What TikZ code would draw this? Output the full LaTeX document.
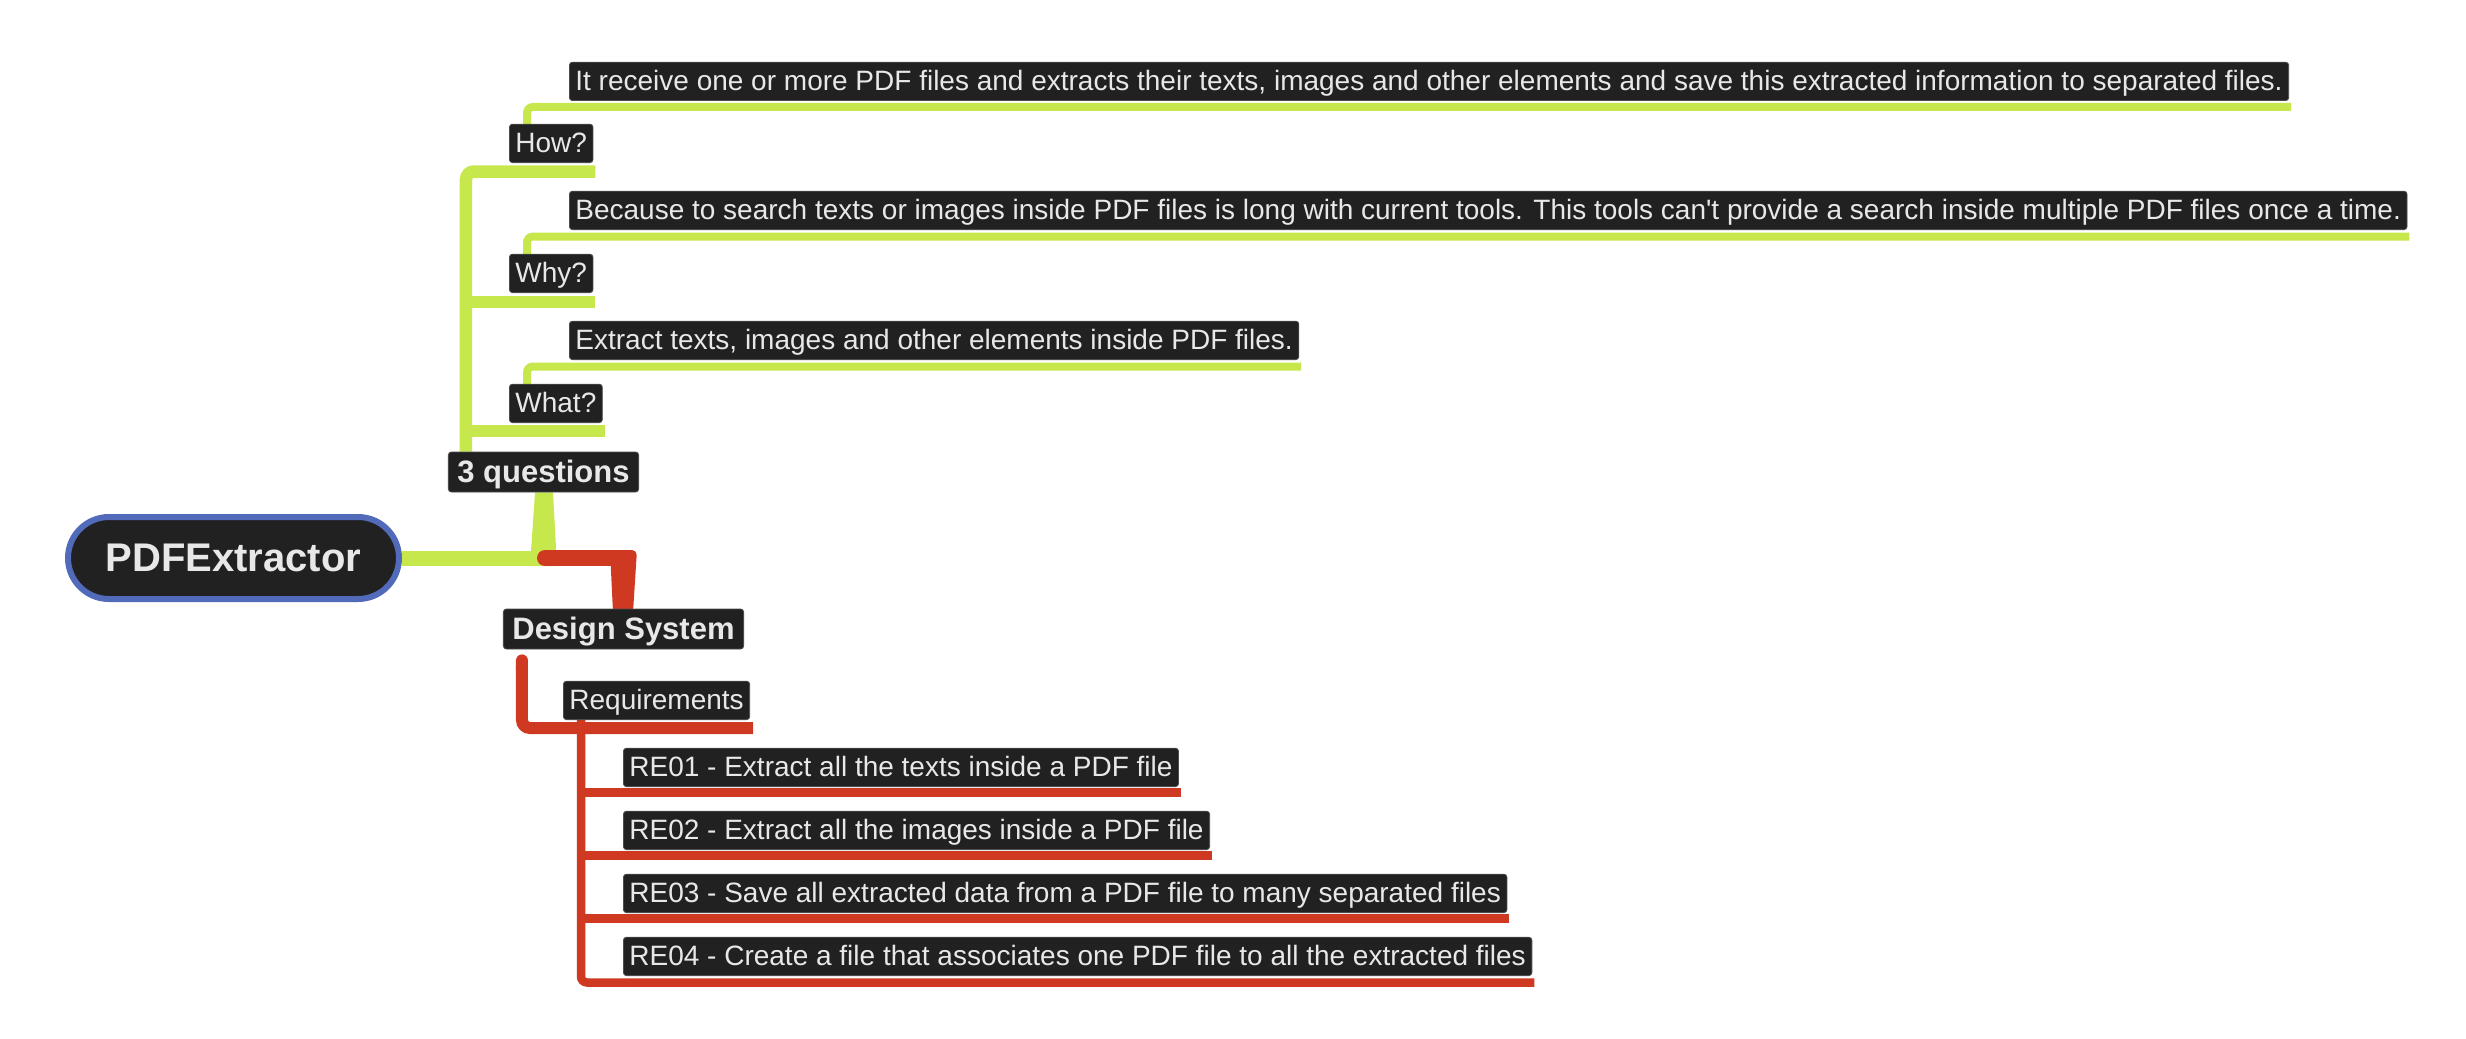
\documentclass[tikz,border=0pt]{standalone}
\usepackage{fontspec}
\setmainfont{Liberation Sans}[Ligatures=TeXOff]
\usetikzlibrary{backgrounds,arrows.meta}

\definecolor{mapgreen}{RGB}{198,232,76}
\definecolor{mapred}{RGB}{207,57,33}
\definecolor{mapblue}{RGB}{82,106,186}
\definecolor{boxfill}{RGB}{33,33,33}
\definecolor{boxtext}{RGB}{232,232,232}

\begin{document}
\begin{tikzpicture}[
    x=0.5pt, y=-0.5pt,
    topic/.style={rectangle, draw=black!70, line width=0.4pt, fill=boxfill, text=boxtext, rounded corners=1.5pt, inner ysep=0pt},
    leaf/.style={topic, font=\fontsize{14pt}{16pt}\selectfont, inner xsep=3pt, text height=14pt, text depth=5.2pt},
    branch/.style={topic, font=\fontsize{15.5pt}{18pt}\selectfont\bfseries, inner xsep=4.5pt, text height=15.2pt, text depth=4.8pt},
    root/.style={draw=mapblue, line width=3pt, fill=boxfill, text=boxtext, rounded corners=20.5pt, minimum width=165.5pt, minimum height=41pt, font=\fontsize{20pt}{24pt}\selectfont\bfseries},
    qthick/.style={draw=mapgreen, line width=6.25pt, rounded corners=4pt},
    qthin/.style={draw=mapgreen, line width=4pt, rounded corners=3pt},
    rthick/.style={draw=mapred, line width=6pt, rounded corners=4pt},
    rthin/.style={draw=mapred, line width=4.25pt, rounded corners=3pt}
]
\useasboundingbox (0,0) rectangle (2466,1038);

\node[root] (root) at (233.5,558) {PDFExtractor};
\node[branch] (q3) at (543.5,472) {3 questions};
\node[branch] (ds) at (623.5,629) {Design System};

% the three questions
\node[leaf, anchor=south west] (how) at (509,163) {How?};
\node[leaf, anchor=south west] (why) at (509,293) {Why?};
\node[leaf, anchor=south west] (what) at (509,423) {What?};
\node[leaf, anchor=south west] (howtxt) at (569,101) {It receive one or more PDF files and extracts their texts, images and other elements and save this extracted information to separated files.};
\node[leaf, anchor=south west] (whytxt) at (569,230) {Because to search texts or images inside PDF files is long with current tools. This tools can't provide a search inside multiple PDF files once a time.};
\node[leaf, anchor=south west] (whattxt) at (569,360) {Extract texts, images and other elements inside PDF files.};

% requirements
\node[leaf, anchor=south west] (req) at (563,720) {Requirements};
\node[leaf, anchor=south west] (re1) at (623,787) {RE01 - Extract all the texts inside a PDF file};
\node[leaf, anchor=south west] (re2) at (623,850) {RE02 - Extract all the images inside a PDF file};
\node[leaf, anchor=south west] (re3) at (623,913) {RE03 - Save all extracted data from a PDF file to many separated files};
\node[leaf, anchor=south west] (re4) at (623,976) {RE04 - Create a file that associates one PDF file to all the extracted files};

\begin{scope}[on background layer]
% root branches
\coordinate (hub) at (root.east -| q3.south);
\draw[draw=mapgreen, line width=7.5pt] (root.east) -- ([xshift=6.75pt]hub);
\fill[mapgreen] ([xshift=-4.25pt]q3.south) -- ([xshift=4.75pt]q3.south) -- ([shift={(6.75pt,-4pt)}]hub) -- ([shift={(-6.75pt,-4pt)}]hub) -- cycle;
\coordinate (dsknee) at (hub -| ds.north);
\draw[draw=mapred, line width=8pt, line cap=round] ([xshift=0.75pt]hub) -- (dsknee);
\fill[mapred, rounded corners=2.5pt] ([shift={(-6.75pt,4pt)}]dsknee) -- ([shift={(6.75pt,4pt)}]dsknee) -- ([shift={(4.75pt,-2pt)}]ds.north) -- ([shift={(-5.25pt,-2pt)}]ds.north) -- cycle;

% questions
\coordinate (qtrunk) at ([xshift=9pt]q3.north west);
\draw[qthick] (qtrunk) |- ([xshift=1pt,yshift=-4.25pt]how.south east);
\coordinate (whyend) at ([xshift=1pt,yshift=-4.5pt]why.south east);
\draw[qthick] (whyend -| qtrunk) -- (whyend);
\coordinate (whatend) at ([xshift=1pt,yshift=-4pt]what.south east);
\draw[qthick] (whatend -| qtrunk) -- (whatend);
\draw[qthin] ([xshift=9pt]how.north west) |- ([xshift=1pt,yshift=-3pt]howtxt.south east);
\draw[qthin] ([xshift=9pt]why.north west) |- ([xshift=1pt,yshift=-3.25pt]whytxt.south east);
\draw[qthin] ([xshift=9pt]what.north west) |- ([xshift=1pt,yshift=-3.25pt]whattxt.south east);

% design system
\coordinate (dstrunk) at ([xshift=9.5pt]ds.south west);
\draw[rthick, {Round Cap[]}-] ([yshift=-2.5pt]dstrunk) |- ([xshift=1.5pt,yshift=-4pt]req.south east);
\coordinate (reqtrunk) at ([xshift=9pt]req.south west);
\draw[rthin] (reqtrunk) |- ([xshift=1pt,yshift=-3.25pt]re4.south east);
\coordinate (re1end) at ([xshift=1pt,yshift=-2.75pt]re1.south east);
\draw[rthin] (re1end -| reqtrunk) -- (re1end);
\coordinate (re2end) at ([xshift=1pt,yshift=-2.75pt]re2.south east);
\draw[rthin] (re2end -| reqtrunk) -- (re2end);
\coordinate (re3end) at ([xshift=1pt,yshift=-2.75pt]re3.south east);
\draw[rthin] (re3end -| reqtrunk) -- (re3end);
\end{scope}

\end{tikzpicture}
\end{document}
